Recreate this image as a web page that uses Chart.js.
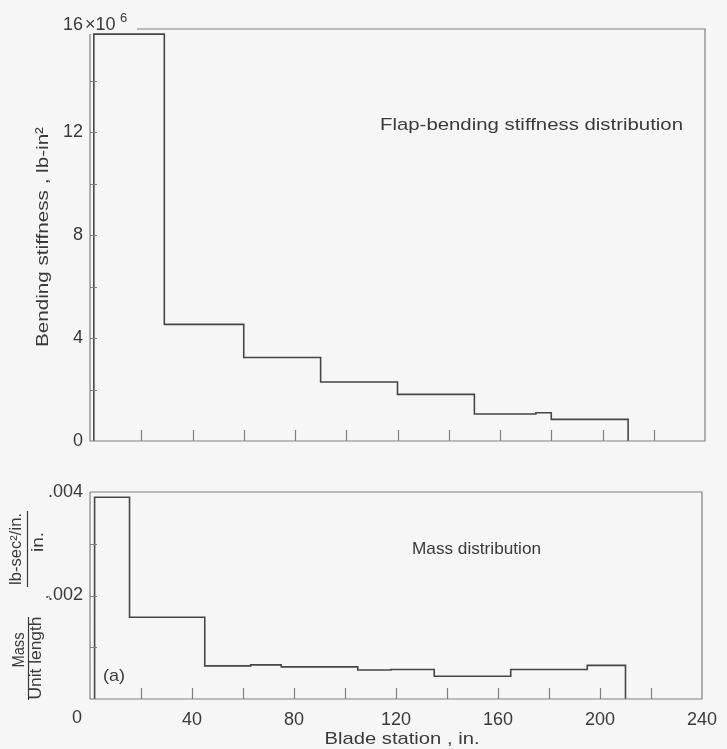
<!DOCTYPE html>
<html>
<head>
<meta charset="utf-8">
<script src="https://cdn.jsdelivr.net/npm/chart.js@4.4.1/dist/chart.umd.min.js"></script>
<style>
  html, body { margin: 0; padding: 0; background: #f6f6f6; }
  #wrap { position: relative; width: 727px; height: 749px; overflow: hidden; }
  canvas { position: absolute; left: 0; }
</style>
</head>
<body>
<div id="wrap">
  <canvas id="top" width="727" height="460" style="top:0"></canvas>
  <canvas id="bot" width="727" height="289" style="top:460px"></canvas>
</div>
<script>
// ---- DATA ----
// Blade station (in.) where each constant-value segment starts/ends
const stiffnessStations = [1.5, 29, 60, 90, 120, 150, 174, 180, 210];
// Flap-bending stiffness, units of 10^6 lb-in^2, one value per segment
const stiffnessValues = [15.8, 4.53, 3.24, 2.29, 1.81, 1.05, 1.1, 0.84];

const massStations = [1.8, 15.5, 45, 63, 75, 105, 118, 135, 165, 195, 210];
// Mass per unit length, lb-sec^2/in. per in.
const massValues = [0.0039, 0.00158, 0.00064, 0.00066, 0.00062, 0.00056, 0.00057, 0.00044, 0.00057, 0.00065];

const xTicksLabelled = [40, 80, 120, 160, 200, 240];   // "0" is drawn offset to the left, as in the figure
const stiffTickLabels = [0, 4, 8, 12];
const massTickLabels = [0.002, 0.004];

// ---- helpers ----
function stepPoints(edges, vals) {
  const pts = [{x: edges[0], y: 0}];
  for (let i = 0; i < vals.length; i++) {
    pts.push({x: edges[i], y: vals[i]});
    pts.push({x: edges[i + 1], y: vals[i]});
  }
  pts.push({x: edges[edges.length - 1], y: 0});
  return pts;
}

const INK = '#464646';
const FRAME = '#808080';
const TEXT = '#3a3a3a';
const FONT = '"Liberation Sans", Arial, sans-serif';

// draw text stretched horizontally to a target width; align 'left' or 'center'
function fitText(ctx, text, x, y, width, size, align, rot) {
  ctx.save();
  ctx.font = size + 'px ' + FONT;
  const w = ctx.measureText(text).width;
  const sx = width / w;
  ctx.translate(x, y);
  if (rot) ctx.rotate(-Math.PI / 2);
  ctx.scale(sx, 1);
  ctx.textAlign = align;
  ctx.textBaseline = 'middle';
  ctx.fillText(text, 0, 0);
  ctx.restore();
}

function framePlugin(topStartX) {
  return {
    id: 'frame',
    afterDraw(chart) {
      const ctx = chart.ctx, a = chart.chartArea;
      const xs = chart.scales.x, ys = chart.scales.y;
      ctx.save();
      ctx.strokeStyle = FRAME;
      ctx.lineWidth = 1.2;
      ctx.beginPath();
      ctx.moveTo(topStartX != null ? topStartX : a.left, a.top);
      ctx.lineTo(a.right, a.top);
      ctx.lineTo(a.right, a.bottom);
      ctx.lineTo(a.left, a.bottom);
      ctx.lineTo(a.left, a.top + (topStartX != null ? 5 : 0));
      ctx.stroke();
      // inward ticks on x
      ctx.beginPath();
      xs.ticks.forEach(t => {
        if (t.value <= xs.min || t.value >= xs.max) return;
        const px = Math.round(xs.getPixelForValue(t.value)) + 0.5;
        ctx.moveTo(px, a.bottom);
        ctx.lineTo(px, a.bottom - 11);
      });
      // inward ticks on y
      ys.ticks.forEach(t => {
        if (t.value <= ys.min + 1e-12 || t.value >= ys.max - 1e-12) return;
        const py = Math.round(ys.getPixelForValue(t.value)) + 0.5;
        ctx.moveTo(a.left, py);
        ctx.lineTo(a.left + 7, py);
      });
      ctx.stroke();
      ctx.restore();
    }
  };
}

// ---- TOP CHART ----
new Chart(document.getElementById('top'), {
  type: 'line',
  data: {
    datasets: [{
      data: stepPoints(stiffnessStations, stiffnessValues),
      borderColor: INK, borderWidth: 1.6, pointRadius: 0, tension: 0, fill: false
    }]
  },
  options: {
    responsive: false, animation: false, devicePixelRatio: 1,
    layout: { padding: { top: 29, right: 22, left: 0, bottom: 0 } },
    plugins: { legend: { display: false }, tooltip: { enabled: false } },
    scales: {
      x: {
        type: 'linear', min: 0, max: 240,
        ticks: { stepSize: 20, display: false },
        grid: { display: false }, border: { display: false },
        afterFit: s => { s.height = 19; }
      },
      y: {
        min: 0, max: 16,
        ticks: {
          stepSize: 2, padding: 7, color: TEXT,
          font: { family: FONT, size: 18 },
          callback: v => stiffTickLabels.includes(v) ? String(v) : ''
        },
        grid: { display: false, drawTicks: false }, border: { display: false },
        afterFit: s => { s.width = 90; }
      }
    }
  },
  plugins: [framePlugin(137), {
    id: 'texts',
    afterDraw(chart) {
      const ctx = chart.ctx;
      ctx.save();
      ctx.fillStyle = TEXT;
      ctx.font = '18px ' + FONT;
      ctx.textBaseline = 'middle';
      ctx.textAlign = 'right';
      ctx.fillText('16', 83, 25);
      ctx.textAlign = 'left';
      ctx.fillText('\u00d710', 85, 25);
      ctx.font = '13px ' + FONT;
      ctx.fillText('6', 120, 18);
      fitText(ctx, 'Flap-bending stiffness distribution', 380, 125, 303, 17, 'left');
      fitText(ctx, 'Bending stiffness , lb-in\u00b2', 43, 237, 220, 17, 'center', true);
      ctx.restore();
    }
  }]
});

// ---- BOTTOM CHART ----
new Chart(document.getElementById('bot'), {
  type: 'line',
  data: {
    datasets: [{
      data: stepPoints(massStations, massValues),
      borderColor: INK, borderWidth: 1.6, pointRadius: 0, tension: 0, fill: false
    }]
  },
  options: {
    responsive: false, animation: false, devicePixelRatio: 1,
    layout: { padding: { top: 32, right: 22, left: 0, bottom: 0 } },
    plugins: { legend: { display: false }, tooltip: { enabled: false } },
    scales: {
      x: {
        type: 'linear', min: 0, max: 240,
        ticks: {
          stepSize: 20, padding: 10, maxRotation: 0, autoSkip: false, color: TEXT,
          font: { family: FONT, size: 18 },
          callback: v => xTicksLabelled.includes(v) ? String(v) : ''
        },
        grid: { display: false, drawTicks: false }, border: { display: false },
        afterFit: s => { s.height = 50; }
      },
      y: {
        min: 0, max: 0.004,
        ticks: {
          stepSize: 0.001, padding: 7, color: TEXT,
          font: { family: FONT, size: 18 },
          callback: v => massTickLabels.some(m => Math.abs(m - v) < 1e-9) ? '.' + String(Math.round(v * 1000)).padStart(3, '0') : ''
        },
        grid: { display: false, drawTicks: false }, border: { display: false },
        afterFit: s => { s.width = 90; }
      }
    }
  },
  plugins: [framePlugin(null), {
    id: 'texts2',
    afterDraw(chart) {
      const ctx = chart.ctx;
      const off = 460;
      const xs = chart.scales.x, a = chart.chartArea;
      ctx.save();
      ctx.fillStyle = TEXT;
      ctx.font = '18px ' + FONT;
      ctx.textBaseline = 'middle';
      ctx.textAlign = 'center';
      ctx.fillText('0', xs.getPixelForValue(0) - 13, 718 - off);
      fitText(ctx, 'Mass distribution', 412, 549 - off, 129, 17, 'left');
      fitText(ctx, '(a)', 103, 676 - off, 22, 17, 'left');
      fitText(ctx, 'Blade station , in.', 402, 739 - off, 155, 17, 'center');
      // rotated fraction y-title
      fitText(ctx, 'Mass', 20, 650 - off, 35, 16, 'center', true);
      fitText(ctx, 'Unit length', 37, 658 - off, 83, 16, 'center', true);
      fitText(ctx, ',', 44, 597 - off, 4, 16, 'center', true);
      fitText(ctx, 'lb-sec\u00b2/in.', 17, 549 - off, 72, 16, 'center', true);
      fitText(ctx, 'in.', 39, 542 - off, 20, 16, 'center', true);
      ctx.strokeStyle = TEXT;
      ctx.lineWidth = 1.2;
      ctx.beginPath();
      ctx.moveTo(28.5, 617 - off); ctx.lineTo(28.5, 700 - off);
      ctx.moveTo(27.5, 511 - off); ctx.lineTo(27.5, 587 - off);
      ctx.stroke();
      ctx.restore();
    }
  }]
});
</script>
</body>
</html>
